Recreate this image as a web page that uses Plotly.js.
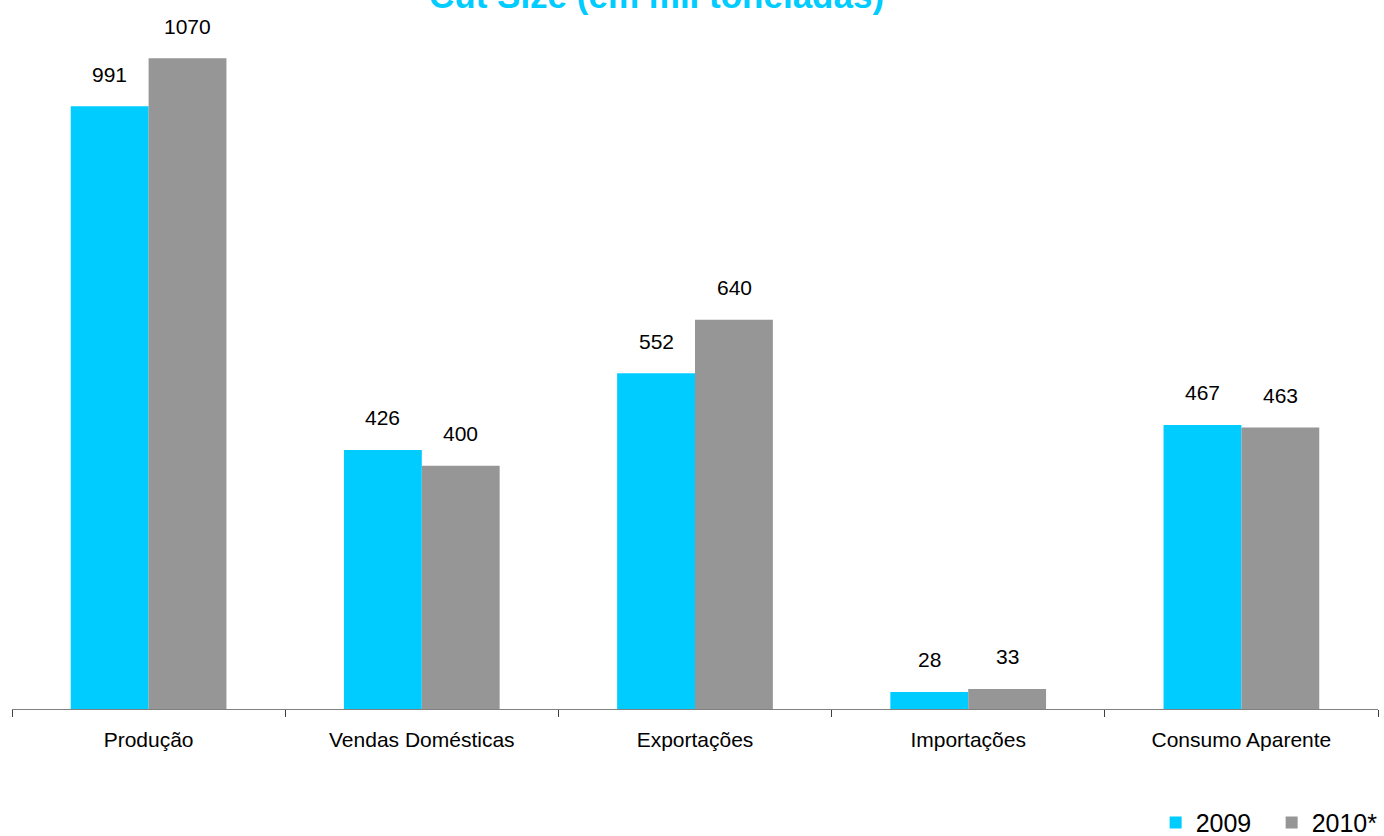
<!DOCTYPE html>
<html>
<head>
<meta charset="utf-8">
<script src="https://cdn.plot.ly/plotly-3.0.1.min.js"></script>
<style>html,body{margin:0;padding:0;background:#fff;}#chart{width:1384px;height:836px;}</style>
</head>
<body>
<div id="chart"></div>
<script>
var categories = ["Produção", "Vendas Domésticas", "Exportações", "Importações", "Consumo Aparente"];
var values2009 = [991, 426, 552, 28, 467];
var values2010 = [1070, 400, 640, 33, 463];
var seriesNames = ["2009", "2010*"];
var titleText = "Cut Size (em mil toneladas)";

var fnt = "'Liberation Sans', Arial, sans-serif";

var traces = [
  {type: "bar", name: seriesNames[0], x: categories, y: values2009, marker: {color: "#00CCFF"}, hoverinfo: "none"},
  {type: "bar", name: seriesNames[1], x: categories, y: values2010, marker: {color: "#969696"}, hoverinfo: "none"}
];

var annotations = [];
[values2009, values2010].forEach(function (vals, si) {
  vals.forEach(function (v, i) {
    annotations.push({
      x: categories[i], y: v, xref: "x", yref: "y",
      xshift: si === 0 ? -39 : 39, yshift: 32,
      text: String(v), showarrow: false,
      xanchor: "center", yanchor: "middle",
      font: {family: fnt, size: 21, color: "#000"}
    });
  });
});

annotations.push({
  text: "<b>" + titleText + "</b>", showarrow: false,
  xref: "paper", yref: "paper", x: 0.4715, y: 1.066,
  xanchor: "center", yanchor: "middle",
  font: {family: fnt, size: 35, color: "#00CCFF"}
});

var layout = {
  width: 1384, height: 836,
  paper_bgcolor: "#fff", plot_bgcolor: "#fff",
  margin: {l: 12, r: 6, t: 40, b: 127, autoexpand: false},
  barmode: "group", bargap: 0.43, bargroupgap: 0,
  xaxis: {
    type: "category", range: [-0.5, 4.5],
    showline: true, linecolor: "#808080", linewidth: 1,
    ticks: "outside", tickson: "boundaries", ticklen: 7, tickcolor: "#404040", tickwidth: 1,
    ticklabelstandoff: 12,
    tickfont: {family: fnt, size: 21, color: "#000"},
    showgrid: false, zeroline: false, fixedrange: true
  },
  yaxis: {
    range: [0, 1100], visible: false, showgrid: false, zeroline: false, fixedrange: true
  },
  showlegend: true,
  legend: {
    orientation: "h", xref: "container", yref: "paper",
    x: 0.835, xanchor: "left", y: -0.17, yanchor: "middle",
    entrywidth: 71, entrywidthmode: "pixels", itemwidth: 30,
    font: {family: fnt, size: 25, color: "#000"},
    bgcolor: "rgba(0,0,0,0)"
  },
  annotations: annotations
};

Plotly.newPlot("chart", traces, layout, {staticPlot: true, displayModeBar: false});
</script>
</body>
</html>
